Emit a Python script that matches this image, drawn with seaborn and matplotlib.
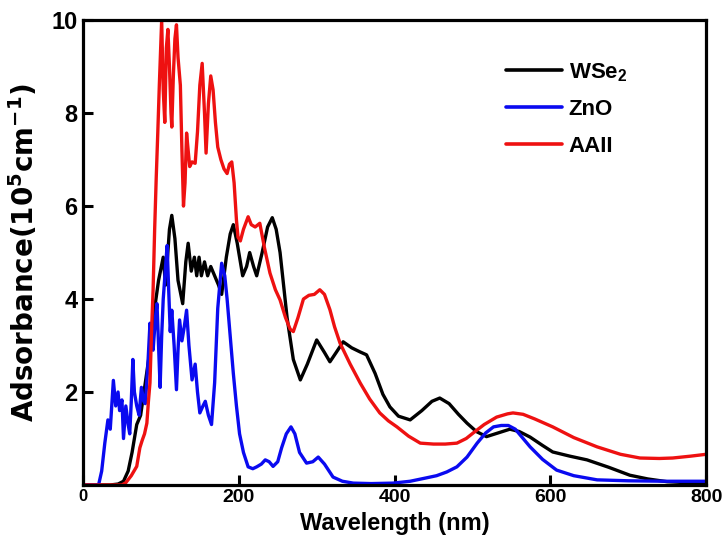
import numpy as np
import pandas as pd
import matplotlib
matplotlib.use("Agg")
import matplotlib.pyplot as plt
import seaborn as sns

# ---- data (wavelength in nm, absorbance in 1e5 cm^-1)
wse2_nm = [0, 35, 45, 52, 58, 63, 69, 74, 80, 86, 92, 97, 103, 106, 111, 114, 118, 122,
           128, 132, 135, 139, 143, 146, 149, 152, 156, 160, 164, 169, 174, 178, 184, 189,
           193, 198, 205, 210, 214, 219, 223, 230, 237, 243, 248, 253, 262, 270, 279, 288,
           300, 310, 317, 325, 334, 345, 356, 364, 375, 385, 394, 405, 420, 435, 448, 458,
           470, 482, 493, 505, 518, 533, 548, 560, 574, 590, 603, 625, 647, 675, 702, 725,
           750, 775, 800]
wse2_abs = [0, 0, 0.02, 0.08, 0.3, 0.7, 1.3, 1.5, 2.2, 2.9, 3.8, 4.4, 4.9, 4.3, 5.5, 5.8,
            5.3, 4.4, 3.9, 4.8, 5.2, 4.6, 4.9, 4.5, 4.9, 4.5, 4.8, 4.5, 4.7, 4.5, 4.3, 4.1,
            4.9, 5.4, 5.6, 5.2, 4.5, 4.7, 5.0, 4.7, 4.5, 5.0, 5.55, 5.75, 5.5, 5.0, 3.6, 2.7,
            2.26, 2.6, 3.12, 2.85, 2.65, 2.85, 3.08, 2.95, 2.86, 2.8, 2.4, 1.95, 1.68, 1.48,
            1.4, 1.6, 1.8, 1.87, 1.75, 1.52, 1.33, 1.15, 1.04, 1.12, 1.2, 1.15, 1.03, 0.85,
            0.71, 0.62, 0.54, 0.38, 0.21, 0.13, 0.07, 0.05, 0.04]

zno_nm = [0, 20, 24, 28, 32, 35, 39, 42, 45, 47, 50, 52, 55, 58, 60, 62, 64, 66, 69, 72,
          75, 78, 80, 83, 86, 88, 90, 93, 95, 97, 99, 101, 103, 106, 108, 110, 112, 114,
          117, 120, 122, 124, 127, 130, 133, 136, 140, 144, 147, 150, 154, 157, 161, 165,
          169, 173, 178, 182, 185, 189, 193, 197, 201, 206, 212, 218, 223, 229, 234, 239,
          244, 250, 255, 261, 267, 272, 278, 287, 295, 302, 310, 321, 333, 347, 370, 398,
          420, 440, 454, 467, 480, 493, 506, 517, 527, 537, 546, 555, 565, 574, 590, 608,
          630, 660, 700, 750, 800]
zno_abs = [0, 0, 0.3, 0.9, 1.4, 1.2, 2.25, 1.7, 2.0, 1.6, 1.83, 1.0, 1.7, 1.3, 1.1, 1.8,
           2.7, 2.0, 1.7, 1.5, 2.1, 1.8, 1.75, 2.5, 3.48, 3.0, 2.9, 3.6, 3.9, 3.0, 2.1, 3.2,
           4.0, 4.7, 5.15, 4.2, 3.3, 3.76, 3.0, 2.05, 2.9, 3.55, 3.1, 3.4, 3.76, 3.0, 2.26,
           2.6, 2.0, 1.55, 1.7, 1.8, 1.5, 1.3, 2.2, 3.8, 4.77, 4.5, 4.0, 3.2, 2.4, 1.7, 1.1,
           0.7, 0.39, 0.35, 0.39, 0.45, 0.54, 0.5, 0.4, 0.5, 0.8, 1.1, 1.25, 1.1, 0.7, 0.47,
           0.5, 0.6, 0.45, 0.17, 0.08, 0.04, 0.03, 0.04, 0.08, 0.15, 0.2, 0.28, 0.39, 0.6,
           0.9, 1.12, 1.25, 1.28, 1.28, 1.2, 1.0, 0.82, 0.55, 0.32, 0.2, 0.11, 0.09, 0.08,
           0.08]

aaii_nm = [0, 50, 55, 62, 69, 73, 76, 79, 82, 84, 86, 88, 90, 92, 94, 96, 98, 101, 103,
           105, 107, 109, 111, 113, 114, 116, 118, 120, 122, 125, 127, 129, 131, 133, 135,
           137, 140, 144, 147, 150, 153, 156, 158, 161, 164, 167, 170, 173, 177, 181, 185,
           188, 191, 194, 197, 199, 202, 206, 212, 216, 221, 227, 233, 240, 247, 253, 260,
           266, 270, 276, 283, 290, 297, 304, 310, 317, 323, 330, 343, 356, 368, 381, 392,
           403, 418, 433, 450, 465, 480, 492, 501, 515, 531, 545, 552, 565, 580, 603, 630,
           660, 690, 715, 740, 757, 780, 800]
aaii_abs = [0, 0, 0.05, 0.2, 0.4, 0.8, 0.96, 1.1, 1.33, 1.8, 2.2, 3.3, 4.2, 5.5, 6.6,
            7.57, 8.6, 10.0, 8.5, 7.8, 9.4, 9.8, 9.0, 8.0, 7.7, 8.8, 9.6, 9.9, 9.2, 8.6,
            7.2, 6.0, 6.5, 7.57, 7.2, 6.85, 6.95, 6.92, 7.6, 8.6, 9.07, 8.0, 7.14, 8.2, 8.8,
            8.5, 7.8, 7.27, 7.0, 6.8, 6.7, 6.9, 6.95, 6.5, 5.7, 5.33, 5.25, 5.5, 5.77, 5.6,
            5.55, 5.63, 5.1, 4.56, 4.2, 3.98, 3.6, 3.35, 3.3, 3.6, 4.0, 4.08, 4.1, 4.2, 4.1,
            3.77, 3.4, 3.05, 2.6, 2.19, 1.85, 1.55, 1.38, 1.25, 1.05, 0.9, 0.88, 0.88, 0.9,
            1.0, 1.12, 1.3, 1.46, 1.53, 1.55, 1.52, 1.42, 1.25, 1.02, 0.82, 0.66, 0.58,
            0.57, 0.58, 0.62, 0.66]

samples = ["WSe$_2$", "ZnO", "AAII"]
colors = ["black", "#0a0af0", "#ee1111"]

df = pd.concat([
    pd.DataFrame({"wavelength": wse2_nm, "absorbance": wse2_abs, "sample": samples[0]}),
    pd.DataFrame({"wavelength": zno_nm, "absorbance": zno_abs, "sample": samples[1]}),
    pd.DataFrame({"wavelength": aaii_nm, "absorbance": aaii_abs, "sample": samples[2]}),
], ignore_index=True)

sns.set_style("ticks")
plt.rcParams["font.family"] = ["Liberation Sans", "DejaVu Sans"]
plt.rcParams["font.weight"] = "bold"
plt.rcParams["text.color"] = "black"
plt.rcParams["axes.labelcolor"] = "black"
plt.rcParams["mathtext.default"] = "regular"

fig = plt.figure(figsize=(7.28, 5.44), dpi=100)
ax = fig.add_axes([0.114, 0.1085, 0.856, 0.8545])

sns.lineplot(data=df, x="wavelength", y="absorbance", hue="sample",
             palette=dict(zip(samples, colors)), hue_order=samples,
             estimator=None, sort=True, linewidth=2.4, ax=ax)

ax.set_xlim(0, 800)
ax.set_ylim(0, 10)
ax.set_xticks([0, 200, 400, 600, 800])
ax.set_yticks([2, 4, 6, 8, 10])

for s in ax.spines.values():
    s.set_linewidth(2.3)
    s.set_color("black")
ax.tick_params(direction="in", width=2.2, length=7, colors="black", labelcolor="black")
ax.tick_params(axis="y", labelsize=17, pad=4)
ax.tick_params(axis="x", labelsize=14, pad=3)
for lbl in ax.get_xticklabels():
    lbl.set_fontweight("bold")
ax.get_xticklabels()[0].set_fontsize(12)
for lbl in ax.get_yticklabels():
    lbl.set_fontweight("bold")

ax.set_xlabel("Wavelength (nm)", fontsize=17, fontweight="bold", color="black",
              labelpad=4)
ax.set_ylabel("Adsorbance(10$^5$cm$^{-1}$)", fontsize=20, fontweight="bold",
              family=["DejaVu Sans"], color="black", labelpad=8)

leg = ax.legend(loc="upper right", bbox_to_anchor=(0.905, 0.955), frameon=False,
                fontsize=16, handlelength=2.5, handletextpad=0.3, labelspacing=0.7)
for line in leg.get_lines():
    line.set_linewidth(2.6)
for t in leg.get_texts():
    t.set_fontweight("bold")
    t.set_color("black")

fig.savefig("out.png", dpi=100)
